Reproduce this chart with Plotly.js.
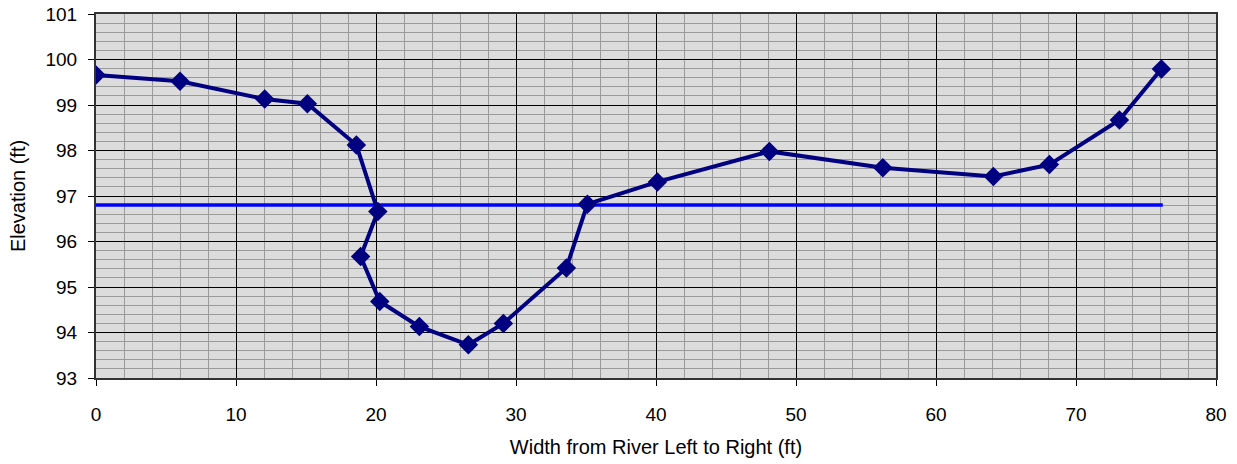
<!DOCTYPE html>
<html>
<head>
<meta charset="utf-8">
<script src="https://cdn.plot.ly/plotly-3.0.1.min.js"></script>
<style>html,body{margin:0;padding:0;background:#fff;}#chart{width:1237px;height:464px;}</style>
</head>
<body>
<div id="chart"></div>
<script>
const stationWidth = [0, 6.0, 12.05, 15.1, 18.6, 20.13, 18.9, 20.27, 23.1, 26.6, 29.1, 33.6, 35.1, 40.1, 48.1, 56.2, 64.1, 68.1, 73.1, 76.1];
const elevation = [99.66, 99.52, 99.13, 99.03, 98.12, 96.66, 95.67, 94.68, 94.13, 93.73, 94.2, 95.42, 96.82, 97.31, 97.98, 97.62, 97.43, 97.69, 98.67, 99.79];
const waterWidth = [0, 76.2];
const waterElevation = [96.8, 96.8];
const xTitle = 'Width from River Left to Right (ft)';
const yTitle = 'Elevation (ft)';

const traces = [
  {
    x: waterWidth, y: waterElevation, type: 'scatter', mode: 'lines',
    line: {color: '#0000ff', width: 3.5}, hoverinfo: 'skip'
  },
  {
    x: stationWidth, y: elevation, type: 'scatter', mode: 'lines+markers',
    line: {color: '#000080', width: 4},
    marker: {symbol: 'diamond', size: 15, color: '#000080'}
  }
];

const fam = 'Liberation Sans, Arial, sans-serif';
const layout = {
  width: 1237, height: 464,
  margin: {l: 96, r: 21, t: 14, b: 86},
  paper_bgcolor: '#ffffff',
  plot_bgcolor: '#dcdcdc',
  showlegend: false,
  font: {family: fam, color: '#000'},
  xaxis: {
    range: [0, 80], dtick: 10, tick0: 0,
    showgrid: true, gridcolor: '#000000', gridwidth: 1,
    minor: {dtick: 2, showgrid: true, gridcolor: '#9a9a9a', gridwidth: 1, ticks: ''},
    ticks: 'outside', ticklen: 6, tickcolor: '#000', tickwidth: 1,
    ticklabelstandoff: 12,
    showline: true, linecolor: '#333', linewidth: 2, mirror: true,
    zeroline: false,
    tickfont: {size: 19, family: fam, color: '#000'},
    title: {text: xTitle, font: {size: 20, family: fam, color: '#000'}, standoff: 16}
  },
  yaxis: {
    range: [93, 101], dtick: 1, tick0: 93,
    showgrid: true, gridcolor: '#000000', gridwidth: 1,
    minor: {dtick: 0.2, showgrid: true, gridcolor: '#9a9a9a', gridwidth: 1, ticks: ''},
    ticks: 'outside', ticklen: 6, tickcolor: '#000', tickwidth: 1,
    ticklabelstandoff: 7,
    showline: true, linecolor: '#333', linewidth: 2, mirror: true,
    zeroline: false,
    tickfont: {size: 19, family: fam, color: '#000'},
    title: {text: yTitle, font: {size: 20, family: fam, color: '#000'}, standoff: 14}
  }
};

Plotly.newPlot('chart', traces, layout, {staticPlot: true, displayModeBar: false});
</script>
</body>
</html>
